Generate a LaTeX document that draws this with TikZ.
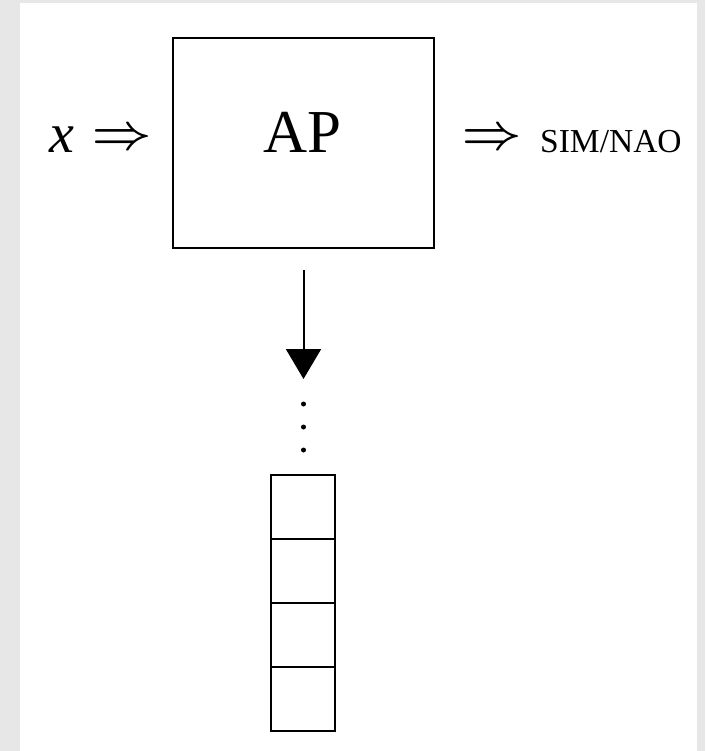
\documentclass[tikz,border=0pt]{standalone}
\usepackage{graphicx}
\usepackage{fontspec}
\setmainfont{Liberation Serif}
\usetikzlibrary{arrows.meta}
\definecolor{bggray}{RGB}{231,231,231}
\tikzset{
  boxline/.style={draw=black, line width=2pt},
  cell/.style={boxline, minimum width=64pt, minimum height=64pt, inner sep=0pt, outer sep=0pt},
  dotnode/.style={circle, fill=black, inner sep=0pt, minimum size=5pt},
  bigarrow/.style={inner sep=0pt},
}
\newcommand{\bigRA}{\resizebox{65pt}{!}{\tiny$\Rightarrow$}}
\begin{document}
\begin{tikzpicture}[x=1pt, y=-1pt]
  \fill[bggray] (0,0) rectangle (705,751);
  \fill[white] (20,3) rectangle (697,751);
  \useasboundingbox (0,0) rectangle (705,751);

  \node[boxline, minimum width=261pt, minimum height=210pt, inner sep=0pt] (ap) at (303.5,143) {};
  \node[anchor=base, inner sep=0pt, font=\fontsize{61}{64}\selectfont] (aptext) at (302.5,153) {AP};

  \node[anchor=base, inner sep=0pt, font=\fontsize{56}{58}\selectfont\itshape] (xin) at (62,153) {x};
  \node[bigarrow] (arrl) at (122.5,139) {\bigRA};
  \node[bigarrow] (arrr) at (491.7,139) {\bigRA};
  \node[anchor=base west, inner sep=0pt, font=\fontsize{33.5}{36}\selectfont] (out) at (540,152.3) {SIM/NAO};

  \coordinate (tip) at (303.5,379);
  \draw[line width=2pt, shorten <=21pt, -{Triangle[width=35pt,length=30pt]}] (ap.south) -- (tip);

  \node[dotnode] (d1) at (303.5,404) {};
  \node[dotnode] (d2) at (303.5,427) {};
  \node[dotnode] (d3) at (303.5,450) {};

  \node[cell] (c1) at (303,506.5) {};
  \node[cell] (c2) at (303,570.5) {};
  \node[cell] (c3) at (303,634.5) {};
  \node[cell] (c4) at (303,698.5) {};
\end{tikzpicture}
\end{document}
